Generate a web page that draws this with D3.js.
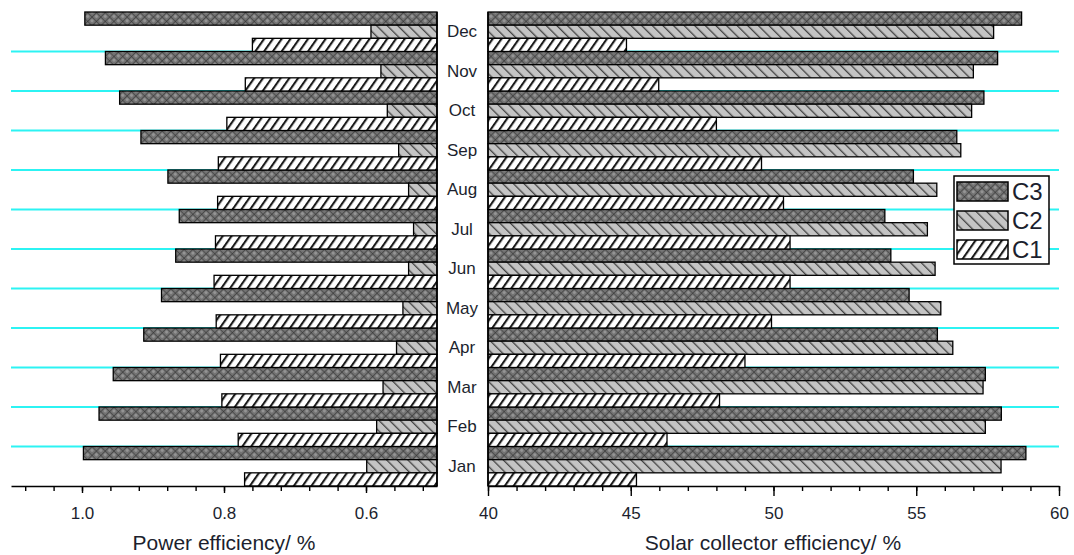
<!DOCTYPE html>
<html>
<head>
<meta charset="utf-8">
<script src="https://cdn.jsdelivr.net/npm/d3@7"></script>
<style>
  html, body { margin: 0; padding: 0; background: #fff; }
  svg text { font-family: "Liberation Sans", Arial, sans-serif; }
</style>
</head>
<body>
<svg id="chart" width="1074" height="555"></svg>
<script>
// Monthly efficiencies for three collector configurations
const months = ["Jan","Feb","Mar","Apr","May","Jun","Jul","Aug","Sep","Oct","Nov","Dec"];
const seriesNames = ["C3", "C2", "C1"];

// Power efficiency (%)
const powerC1 = [0.771, 0.780, 0.803, 0.805, 0.811, 0.814, 0.812, 0.809, 0.808, 0.796, 0.770, 0.760];
const powerC2 = [0.599, 0.585, 0.576, 0.557, 0.548, 0.540, 0.533, 0.540, 0.554, 0.570, 0.579, 0.593];
const powerC3 = [0.998, 0.976, 0.956, 0.913, 0.888, 0.868, 0.863, 0.879, 0.917, 0.947, 0.967, 0.996];

// Solar collector efficiency (%)
const solarC1 = [45.20, 46.27, 48.11, 49.00, 49.93, 50.58, 50.58, 50.35, 49.58, 48.00, 45.98, 44.85];
const solarC2 = [57.97, 57.42, 57.34, 56.28, 55.86, 55.66, 55.39, 55.72, 56.56, 56.94, 57.00, 57.71];
const solarC3 = [58.84, 57.98, 57.42, 55.74, 54.75, 54.11, 53.90, 54.90, 56.42, 57.37, 57.85, 58.69];

// Axis ticks
const powerTickLabels = [1.0, 0.8, 0.6];
const solarTickLabels = [40, 45, 50, 55, 60];

const powerSeries = { C1: powerC1, C2: powerC2, C3: powerC3 };
const solarSeries = { C1: solarC1, C2: solarC2, C3: solarC3 };

const svg = d3.select("#chart");
const TXT = "#1c1f2e";

// Fill patterns
const defs = svg.append("defs");

const pC3 = defs.append("pattern").attr("id", "fillC3")
  .attr("patternUnits", "userSpaceOnUse").attr("width", 6.2).attr("height", 6.2)
  .attr("patternTransform", "translate(0,12) rotate(45)");
pC3.append("rect").attr("width", 6.2).attr("height", 6.2).attr("fill", "#727272");
pC3.append("circle").attr("cx", 3.1).attr("cy", 3.1).attr("r", 1.6).attr("fill", "#959595");
pC3.append("path").attr("d", "M0,0 V6.2 M0,0 H6.2").attr("stroke", "#2a2a2a").attr("stroke-width", 1);

const pC2 = defs.append("pattern").attr("id", "fillC2")
  .attr("patternUnits", "userSpaceOnUse").attr("width", 7.5).attr("height", 10)
  .attr("patternTransform", "rotate(-45)");
pC2.append("rect").attr("width", 7.5).attr("height", 10).attr("fill", "#c4c4c4");
pC2.append("rect").attr("x", 0).attr("width", 1.3).attr("height", 10).attr("fill", "#444");

const pC1 = defs.append("pattern").attr("id", "fillC1")
  .attr("patternUnits", "userSpaceOnUse").attr("width", 7.2).attr("height", 10)
  .attr("patternTransform", "rotate(35)");
pC1.append("rect").attr("width", 7.2).attr("height", 10).attr("fill", "#ffffff");
pC1.append("rect").attr("x", 0).attr("width", 2.1).attr("height", 10).attr("fill", "#1a1a1a");

const fills = { C3: "url(#fillC3)", C2: "url(#fillC2)", C1: "url(#fillC1)" };

// Scales
const yTop = 12, yBottom = 486;
const y = d3.scaleBand().domain(months).range([yBottom, yTop]).padding(0);
const ySub = d3.scaleBand().domain(seriesNames).range([0, y.bandwidth()]).padding(0);

const xL = d3.scaleLinear().domain([1.1, 0.5]).range([11, 437]);
const xR = d3.scaleLinear().domain([40, 60]).range([488, 1059]);

// Cyan separators between months (drawn behind bars)
const seps = months.slice(1);
svg.append("g").selectAll("line").data(seps).join("line")
  .attr("x1", xL.range()[0]).attr("x2", xL.range()[1])
  .attr("y1", d => y(d) + y.bandwidth()).attr("y2", d => y(d) + y.bandwidth())
  .attr("stroke", "#2cf3f3").attr("stroke-width", 2);
svg.append("g").selectAll("line").data(seps).join("line")
  .attr("x1", xR.range()[0]).attr("x2", xR.range()[1])
  .attr("y1", d => y(d) + y.bandwidth()).attr("y2", d => y(d) + y.bandwidth())
  .attr("stroke", "#2cf3f3").attr("stroke-width", 2);

// Bars
function barRows(series) {
  const rows = [];
  months.forEach((m, i) => seriesNames.forEach(s => rows.push({ month: m, series: s, value: series[s][i] })));
  return rows;
}

svg.append("g").selectAll("rect").data(barRows(powerSeries)).join("rect")
  .attr("x", d => xL(d.value))
  .attr("width", d => xL(0.5) - xL(d.value))
  .attr("y", d => y(d.month) + ySub(d.series))
  .attr("height", ySub.bandwidth())
  .attr("fill", d => fills[d.series])
  .attr("stroke", "#000").attr("stroke-width", 1.3);

svg.append("g").selectAll("rect").data(barRows(solarSeries)).join("rect")
  .attr("x", xR(40))
  .attr("width", d => xR(d.value) - xR(40))
  .attr("y", d => y(d.month) + ySub(d.series))
  .attr("height", ySub.bandwidth())
  .attr("fill", d => fills[d.series])
  .attr("stroke", "#000").attr("stroke-width", 1.3);

// Axes
function styleAxis(g) {
  g.select(".domain").attr("stroke", "#000").attr("stroke-width", 1.6);
  g.selectAll(".tick line").attr("stroke", "#000").attr("stroke-width", 1.4);
  g.selectAll(".tick text").attr("fill", TXT).style("font-size", "17px")
    .style("font-family", "'Liberation Sans', Arial, sans-serif");
}

// Left: minor ticks every 0.04, labelled ticks at 0.2 steps
const leftMinor = d3.range(0.52, 1.09, 0.04).map(v => +v.toFixed(2));
svg.append("g").attr("transform", `translate(0,${yBottom})`)
  .call(d3.axisBottom(xL).tickValues(leftMinor).tickSize(5).tickSizeOuter(0).tickFormat(""))
  .call(styleAxis);
svg.append("g").attr("transform", `translate(0,${yBottom})`)
  .call(d3.axisBottom(xL).tickValues(powerTickLabels).tickSize(7).tickSizeOuter(0)
    .tickPadding(14).tickFormat(d3.format(".1f")))
  .call(styleAxis)
  .call(g => g.select(".domain").remove());

// Right: minor ticks every 1, labelled ticks every 5
const rightMinor = d3.range(40, 61, 1);
svg.append("g").attr("transform", `translate(0,${yBottom})`)
  .call(d3.axisBottom(xR).tickValues(rightMinor).tickSize(5).tickSizeOuter(0).tickFormat(""))
  .call(styleAxis);
svg.append("g").attr("transform", `translate(0,${yBottom})`)
  .call(d3.axisBottom(xR).tickValues(solarTickLabels).tickSize(10).tickSizeOuter(0)
    .tickPadding(11).tickFormat(d3.format("d")))
  .call(styleAxis)
  .call(g => g.select(".domain").remove());

// Inner spines
svg.append("line").attr("x1", xL(0.5)).attr("x2", xL(0.5)).attr("y1", yTop).attr("y2", yBottom)
  .attr("stroke", "#000").attr("stroke-width", 1.6);
svg.append("line").attr("x1", xR(40)).attr("x2", xR(40)).attr("y1", yTop).attr("y2", yBottom)
  .attr("stroke", "#000").attr("stroke-width", 1.6);

// Month labels between the panels
svg.append("g").selectAll("text").data(months).join("text")
  .attr("x", 462).attr("y", d => y(d) + y.bandwidth() / 2 + 1)
  .attr("text-anchor", "middle").attr("dominant-baseline", "middle")
  .attr("fill", TXT).style("font-size", "17px")
  .text(d => d);

// Axis titles
svg.append("text").attr("x", 224).attr("y", 550).attr("text-anchor", "middle")
  .attr("fill", TXT).style("font-size", "21px").text("Power efficiency/ %");
svg.append("text").attr("x", 773).attr("y", 550).attr("text-anchor", "middle")
  .attr("fill", TXT).style("font-size", "21px").text("Solar collector efficiency/ %");

// Legend
const lg = svg.append("g");
lg.append("rect").attr("x", 954).attr("y", 176).attr("width", 95).attr("height", 88)
  .attr("fill", "#fff").attr("stroke", "#000").attr("stroke-width", 1.5);
const legendRows = [
  { name: "C3", y: 182 },
  { name: "C2", y: 211 },
  { name: "C1", y: 240 }
];
lg.selectAll("rect.sw").data(legendRows).join("rect").attr("class", "sw")
  .attr("x", 957).attr("y", d => d.y).attr("width", 51).attr("height", 19)
  .attr("fill", d => fills[d.name]).attr("stroke", "#000").attr("stroke-width", 1.5);
lg.selectAll("text").data(legendRows).join("text")
  .attr("x", 1012).attr("y", d => d.y + 18)
  .attr("fill", TXT).style("font-size", "24px")
  .text(d => d.name);
</script>
</body>
</html>
